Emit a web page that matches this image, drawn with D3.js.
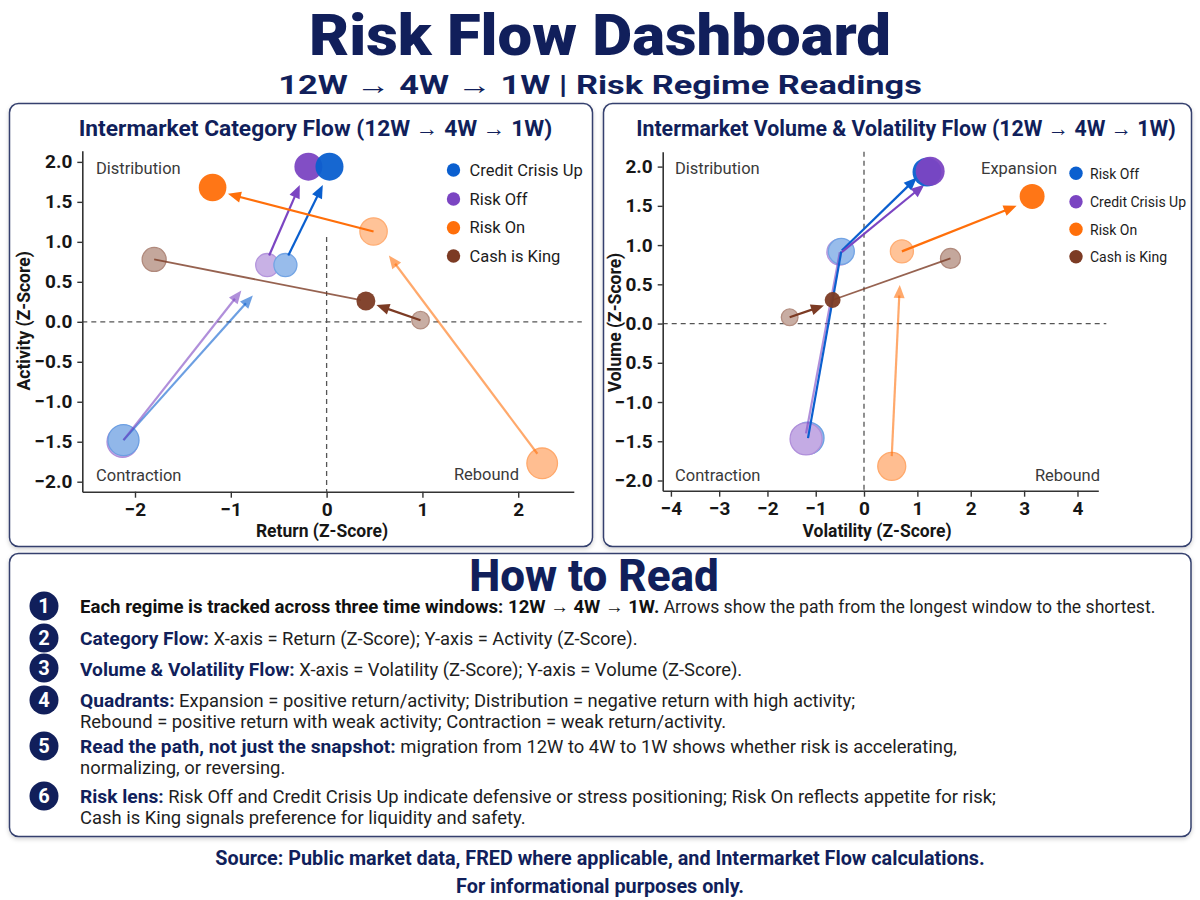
<!DOCTYPE html>
<html>
<head>
<meta charset="utf-8">
<script src="https://cdn.jsdelivr.net/npm/d3@7"></script>
<style>
body { margin: 0; background: #fff; }
svg { display: block; font-family: Roboto, "Noto Sans", sans-serif; }
</style>
</head>
<body>
<div id="chart-area"></div>
<script>
// ---- data ----
var catRegimes = ["Credit Crisis Up", "Risk Off", "Risk On", "Cash is King"];
var volRegimes = ["Risk Off", "Credit Crisis Up", "Risk On", "Cash is King"];

// points in draw order: s = regime, w = window, x/y = z-scores, m = weight
var catPoints = [
  {s: "Risk Off", w: "12W", x: -2.13, y: -1.50, m: 1.07},
  {s: "Credit Crisis Up", w: "12W", x: -2.12, y: -1.48, m: 1.07},
  {s: "Risk Off", w: "4W", x: -0.62, y: 0.71, m: 0.59},
  {s: "Credit Crisis Up", w: "4W", x: -0.43, y: 0.71, m: 0.59},
  {s: "Risk On", w: "12W", x: 2.25, y: -1.77, m: 1.04},
  {s: "Risk On", w: "4W", x: 0.49, y: 1.13, m: 0.83},
  {s: "Cash is King", w: "12W", x: -1.80, y: 0.78, m: 0.64},
  {s: "Cash is King", w: "4W", x: 0.98, y: 0.02, m: 0.34},
  {s: "Risk Off", w: "1W", x: -0.19, y: 1.94, m: 0.87},
  {s: "Credit Crisis Up", w: "1W", x: 0.03, y: 1.94, m: 0.87},
  {s: "Risk On", w: "1W", x: -1.19, y: 1.68, m: 0.85},
  {s: "Cash is King", w: "1W", x: 0.41, y: 0.26, m: 0.40}
];
var catArrows = [
  {s: "Credit Crisis Up", t: "light", head: true, x1: -2.12, y1: -1.48, x2: -0.77, y2: 0.33},
  {s: "Risk Off", t: "light", head: true, x1: -2.12, y1: -1.48, x2: -0.89, y2: 0.39},
  {s: "Credit Crisis Up", t: "dark", head: true, x1: -0.40, y1: 0.83, x2: -0.04, y2: 1.71},
  {s: "Risk Off", t: "dark", head: true, x1: -0.60, y1: 0.83, x2: -0.28, y2: 1.71},
  {s: "Risk On", t: "light", head: true, x1: 2.20, y1: -1.65, x2: 0.65, y2: 0.83},
  {s: "Risk On", t: "dark", head: true, x1: 0.49, y1: 1.13, x2: -1.03, y2: 1.60},
  {s: "Cash is King", t: "mid", head: false, x1: -1.80, y1: 0.78, x2: 0.36, y2: 0.27},
  {s: "Cash is King", t: "dark", head: true, x1: 0.98, y1: 0.02, x2: 0.52, y2: 0.21}
];

var volPoints = [
  {s: "Risk Off", w: "12W", x: -1.16, y: -1.46, m: 1.14},
  {s: "Credit Crisis Up", w: "12W", x: -1.20, y: -1.47, m: 1.14},
  {s: "Credit Crisis Up", w: "4W", x: -0.50, y: 0.91, m: 0.75},
  {s: "Risk Off", w: "4W", x: -0.47, y: 0.92, m: 0.75},
  {s: "Risk On", w: "12W", x: 0.52, y: -1.82, m: 0.87},
  {s: "Risk On", w: "4W", x: 0.71, y: 0.92, m: 0.59},
  {s: "Cash is King", w: "12W", x: 1.62, y: 0.83, m: 0.44},
  {s: "Cash is King", w: "4W", x: -1.54, y: 0.08, m: 0.31},
  {s: "Risk Off", w: "1W", x: 1.18, y: 1.93, m: 0.93},
  {s: "Credit Crisis Up", w: "1W", x: 1.24, y: 1.94, m: 0.93},
  {s: "Risk On", w: "1W", x: 3.15, y: 1.62, m: 0.69},
  {s: "Cash is King", w: "1W", x: -0.65, y: 0.30, m: 0.28}
];
var volArrows = [
  {s: "Credit Crisis Up", t: "light", head: false, x1: -1.20, y1: -1.40, x2: -0.50, y2: 0.91},
  {s: "Risk Off", t: "dark", head: false, x1: -1.16, y1: -1.46, x2: -0.47, y2: 0.92},
  {s: "Risk Off", t: "dark", head: true, x1: -0.46, y1: 0.93, x2: 0.99, y2: 1.86},
  {s: "Credit Crisis Up", t: "dark", head: true, x1: -0.46, y1: 0.91, x2: 1.13, y2: 1.77},
  {s: "Risk On", t: "light", head: true, x1: 0.52, y1: -1.69, x2: 0.67, y2: 0.49},
  {s: "Risk On", t: "dark", head: true, x1: 0.71, y1: 0.92, x2: 2.86, y2: 1.50},
  {s: "Cash is King", t: "dark", head: true, x1: -1.54, y1: 0.08, x2: -0.83, y2: 0.23},
  {s: "Cash is King", t: "mid", head: false, x1: -0.65, y1: 0.30, x2: 1.62, y2: 0.83}
];

var catXTicks = [-2, -1, 0, 1, 2];
var yTicks = [-2, -1.5, -1, -0.5, 0, 0.5, 1, 1.5, 2];
var volXTicks = [-4, -3, -2, -1, 0, 1, 2, 3, 4];
var volYTickLabels = ["\u22122.0", "\u22121.5", "\u22121.0", "0.5", "0.0", "0.5", "1.0", "1.5", "2.0"];

var howToRead = [
  [[["Each regime is tracked across three time windows: 12W \u2192 4W \u2192 1W.", "b1"], [" Arrows show the path from the longest window to the shortest.", "n1"]]],
  [[["Category Flow:", "b"], [" X-axis = Return (Z-Score); Y-axis = Activity (Z-Score).", "n"]]],
  [[["Volume & Volatility Flow:", "b"], [" X-axis = Volatility (Z-Score); Y-axis = Volume (Z-Score).", "n"]]],
  [[["Quadrants:", "b"], [" Expansion = positive return/activity; Distribution = negative return with high activity;", "n"]],
   [["Rebound = positive return with weak activity; Contraction = weak return/activity.", "n"]]],
  [[["Read the path, not just the snapshot:", "b"], [" migration from 12W to 4W to 1W shows whether risk is accelerating,", "n"]],
   [["normalizing, or reversing.", "n"]]],
  [[["Risk lens:", "b"], [" Risk Off and Credit Crisis Up indicate defensive or stress positioning; Risk On reflects appetite for risk;", "n"]],
   [["Cash is King signals preference for liquidity and safety.", "n"]]]
];

// ---- styles ----
var navy = "#111f5b";
var palette = ["#0a5fcf", "#7b45c2", "#ff6f0a", "#7c3b24"];
var tint = {"12W": 0.45, "4W": 0.42};
var toneOpacity = {light: 0.6, mid: 0.8, dark: 1};
var segStyle = {
  b1: {size: 18.6, weight: 700, fill: "#111"},
  n1: {size: 17.6, weight: 400, fill: "#1e1e1e"},
  b: {size: 19.2, weight: 700, fill: navy},
  n: {size: 18.4, weight: 400, fill: "#1e1e1e"}
};
var r = d3.scaleSqrt().domain([0, 1]).range([0, 15]);

var svg = d3.select("#chart-area").append("svg")
  .attr("width", 1200)
  .attr("height", 900);

var defs = svg.append("defs");
var f = defs.append("filter").attr("id", "shadow").attr("x", "-5%").attr("y", "-5%").attr("width", "110%").attr("height", "115%");
f.append("feDropShadow").attr("dx", 0).attr("dy", 2).attr("stdDeviation", 2)
  .attr("flood-color", "#000").attr("flood-opacity", 0.18);

// text squeezed or stretched to a target width
function fitText(sel, cx, baseY, width, sy) {
  var w = sel.node().getComputedTextLength();
  sel.attr("transform", "translate(" + cx + "," + baseY + ") scale(" + (width / w) + "," + (sy || 1) + ")");
}

// headline
var head = svg.append("text").attr("text-anchor", "middle")
  .attr("font-size", 58).attr("font-weight", 900).attr("fill", navy)
  .text("Risk Flow Dashboard");
fitText(head, 600, 55, 582);
var sub = svg.append("text").attr("text-anchor", "middle")
  .attr("font-size", 26).attr("font-weight", 700).attr("fill", navy)
  .text("12W \u2192 4W \u2192 1W  |  Risk Regime Readings");
fitText(sub, 600, 93.5, 644);

// panels
[[9.5, 103.5, 583, 443], [603.5, 103.5, 588, 443], [9.5, 553.5, 1181.5, 283]].forEach(function(b) {
  svg.append("rect")
    .attr("x", b[0]).attr("y", b[1]).attr("width", b[2]).attr("height", b[3])
    .attr("rx", 9).attr("fill", "#fff")
    .attr("stroke", "#34406e").attr("stroke-width", 1.5)
    .attr("filter", "url(#shadow)");
});

function drawChart(cfg) {
  var g = svg.append("g");
  var x = cfg.x, y = cfg.y;
  var x0 = x.range()[0], x1 = x.range()[x.range().length - 1];
  var yb = y.range()[0];
  var color = d3.scaleOrdinal().domain(cfg.regimes).range(palette);
  var light = function(d) { return d3.interpolateRgb("#fff", color(d.s))(tint[d.w]); };
  var edge = function(d) { return d3.interpolateRgb("#fff", color(d.s))(tint[d.w] + 0.15); };

  // title (condensed like the original)
  var t = g.append("text").attr("text-anchor", "middle")
    .attr("font-size", 23).attr("font-weight", 700).attr("fill", navy)
    .text(cfg.title);
  fitText(t, cfg.titleX, 136, cfg.titleW);

  // quadrant lines
  g.append("line")
    .attr("x1", x(0)).attr("x2", x(0))
    .attr("y1", y(cfg.vTop)).attr("y2", yb)
    .attr("stroke", "#555").attr("stroke-width", 1.3).attr("stroke-dasharray", "5,4");
  g.append("line")
    .attr("x1", x0).attr("x2", x1 + 8)
    .attr("y1", y(0)).attr("y2", y(0))
    .attr("stroke", "#555").attr("stroke-width", 1.3).attr("stroke-dasharray", "5,4");

  // axes
  var xa = g.append("g").attr("transform", "translate(0," + yb + ")")
    .call(d3.axisBottom(x).tickValues(cfg.xTicks).tickFormat(d3.format("d")).tickSize(6).tickSizeOuter(0).tickPadding(5));
  var ya = g.append("g").attr("transform", "translate(" + x0 + ",0)")
    .call(d3.axisLeft(y).tickValues(yTicks).tickFormat(cfg.yFormat).tickSize(5).tickSizeOuter(0).tickPadding(5));
  [xa, ya].forEach(function(a) {
    a.select(".domain").attr("stroke", "#333").attr("stroke-width", 1.6);
    a.selectAll(".tick line").attr("stroke", "#333").attr("stroke-width", 1.4);
    a.selectAll("text").attr("font-size", 19).attr("font-weight", 700).attr("fill", "#161616")
      .attr("font-family", "Roboto, sans-serif");
  });

  g.append("text").attr("x", cfg.xLabelX).attr("y", 537).attr("text-anchor", "middle")
    .attr("font-size", 17.5).attr("font-weight", 700).attr("fill", "#161616")
    .text(cfg.xLabel);
  g.append("text").attr("transform", "translate(" + cfg.yLabelX + "," + (y(0) - 1) + ") rotate(-90)")
    .attr("text-anchor", "middle")
    .attr("font-size", 17.5).attr("font-weight", 700).attr("fill", "#161616")
    .text(cfg.yLabel);

  // quadrant names
  cfg.quads.forEach(function(q) {
    g.append("text").attr("x", q[1]).attr("y", q[2]).attr("text-anchor", q[3])
      .attr("font-size", 16.5).attr("fill", "#3a3a3a").text(q[0]);
  });

  // older windows
  g.selectAll("circle.old")
    .data(cfg.points.filter(function(d) { return d.w !== "1W"; }))
    .enter().append("circle")
    .attr("class", "old")
    .attr("cx", function(d) { return x(d.x); })
    .attr("cy", function(d) { return y(d.y); })
    .attr("r", function(d) { return r(d.m); })
    .attr("fill", light)
    .attr("stroke", edge)
    .attr("stroke-width", 1.3);

  // arrows
  cfg.arrows.forEach(function(a) {
    var px1 = x(a.x1), py1 = y(a.y1), px2 = x(a.x2), py2 = y(a.y2);
    var ang = Math.atan2(py2 - py1, px2 - px1);
    var L = 13, W = 5.5;
    var ex = a.head ? px2 - Math.cos(ang) * L * 0.8 : px2;
    var ey = a.head ? py2 - Math.sin(ang) * L * 0.8 : py2;
    var op = toneOpacity[a.t];
    g.append("line")
      .attr("x1", px1).attr("y1", py1).attr("x2", ex).attr("y2", ey)
      .attr("stroke", color(a.s)).attr("stroke-opacity", op)
      .attr("stroke-width", a.t === "mid" ? 1.8 : 2.2);
    if (a.head) {
      var bx = px2 - Math.cos(ang) * L, by = py2 - Math.sin(ang) * L;
      var pts = [
        [px2, py2],
        [bx + Math.sin(ang) * W, by - Math.cos(ang) * W],
        [bx - Math.sin(ang) * W, by + Math.cos(ang) * W]
      ];
      g.append("polygon")
        .attr("points", pts.map(function(p) { return p.join(","); }).join(" "))
        .attr("fill", color(a.s)).attr("fill-opacity", op);
    }
  });

  // latest window
  g.selectAll("circle.cur")
    .data(cfg.points.filter(function(d) { return d.w === "1W"; }))
    .enter().append("circle")
    .attr("class", "cur")
    .attr("cx", function(d) { return x(d.x); })
    .attr("cy", function(d) { return y(d.y); })
    .attr("r", function(d) { return r(d.m); })
    .attr("fill", function(d) { return color(d.s); })
    .attr("fill-opacity", 0.95);

  // legend
  var lg = g.append("g").attr("transform", "translate(" + cfg.legX + ",0)");
  cfg.regimes.forEach(function(s, i) {
    var ly = cfg.legY[i];
    lg.append("circle").attr("cx", 0).attr("cy", ly).attr("r", 6.7).attr("fill", color(s));
    lg.append("text").attr("x", cfg.legGap).attr("y", ly + 5.5)
      .attr("font-size", cfg.legFont).attr("fill", "#1c1c1c").text(s);
  });
}

drawChart({
  title: "Intermarket Category Flow (12W \u2192 4W \u2192 1W)",
  titleX: 315.5, titleW: 474,
  x: d3.scaleLinear().domain([-2.55, 2.58]).range([82.3, 573.8]),
  y: d3.scaleLinear().domain([-2.125, 2.14]).range([491.7, 150.7]),
  xTicks: catXTicks,
  yFormat: d3.format(".1f"),
  vTop: 1.06,
  xLabel: "Return (Z-Score)", xLabelX: 322,
  yLabel: "Activity (Z-Score)", yLabelX: 30,
  quads: [["Distribution", 96, 174, "start"], ["Contraction", 96, 481, "start"], ["Rebound", 519, 480, "end"]],
  points: catPoints, arrows: catArrows,
  regimes: catRegimes,
  legX: 453.5, legY: [170, 199, 227.7, 256], legGap: 16, legFont: 16.5
});

drawChart({
  title: "Intermarket Volume & Volatility Flow (12W \u2192 4W \u2192 1W)",
  titleX: 906, titleW: 540,
  x: d3.scaleLinear().domain([-4.17, 0, 4.39]).range([662.7, 864, 1098.3]),
  y: d3.scaleLinear().domain([-2.13, 2.19]).range([490.7, 151.7]),
  xTicks: volXTicks,
  yFormat: function(d, i) { return volYTickLabels[i]; },
  vTop: 2.19,
  xLabel: "Volatility (Z-Score)", xLabelX: 877,
  yLabel: "Volume (Z-Score)", yLabelX: 621,
  quads: [["Distribution", 675, 174, "start"], ["Expansion", 1057, 174, "end"], ["Contraction", 675, 481, "start"], ["Rebound", 1100, 481, "end"]],
  points: volPoints, arrows: volArrows,
  regimes: volRegimes,
  legX: 1076, legY: [173.3, 201.7, 229.3, 256.7], legGap: 14, legFont: 14
});

// how to read
svg.append("text").attr("x", 594).attr("y", 591).attr("text-anchor", "middle")
  .attr("font-size", 44).attr("font-weight", 800).attr("fill", navy)
  .text("How to Read");

var rowY = [606, 638, 668, 700, 746, 796];
var baseY = [612.7, 645, 676, 706.7, 752.7, 802.7];
howToRead.forEach(function(item, i) {
  svg.append("circle").attr("cx", 44).attr("cy", rowY[i]).attr("r", 14.5).attr("fill", navy);
  svg.append("text").attr("x", 44).attr("y", rowY[i] + 7).attr("text-anchor", "middle")
    .attr("font-size", 20).attr("font-weight", 700).attr("fill", "#fff").text(i + 1);
  item.forEach(function(line, j) {
    var t = svg.append("text").attr("x", 80).attr("y", baseY[i] + j * 21);
    line.forEach(function(seg) {
      var st = segStyle[seg[1]];
      t.append("tspan")
        .attr("font-size", st.size)
        .attr("font-weight", st.weight)
        .attr("fill", st.fill)
        .text(seg[0]);
    });
  });
});

svg.append("text").attr("x", 600).attr("y", 865).attr("text-anchor", "middle")
  .attr("font-size", 19.8).attr("font-weight", 700).attr("fill", navy)
  .text("Source: Public market data, FRED where applicable, and Intermarket Flow calculations.");
svg.append("text").attr("x", 600).attr("y", 893).attr("text-anchor", "middle")
  .attr("font-size", 19.8).attr("font-weight", 700).attr("fill", navy)
  .text("For informational purposes only.");
</script>
</body>
</html>
